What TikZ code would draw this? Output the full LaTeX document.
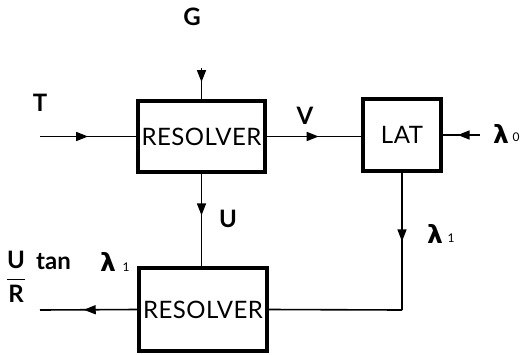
\documentclass[tikz,border=0pt]{standalone}
\usepackage{amsmath}
\usepackage{fontspec}
\setmainfont{Lato}
\newfontfamily\boxfont[LetterSpace=2]{Lato}
\newfontfamily\lamfont{DejaVu Sans}
\usetikzlibrary{arrows.meta,decorations.markings}
\tikzset{
  blk/.style={draw, line width=3.6pt, inner sep=0pt, font=\boxfont\fontsize{24}{26}\selectfont},
  conn/.style={line width=1.6pt},
  lbl/.style={inner sep=0pt, font=\fontsize{24}{26}\selectfont\bfseries},
  lam/.style={inner sep=0pt, font=\lamfont\fontsize{25}{27}\selectfont\bfseries},
  sub/.style={inner sep=0pt, font=\fontsize{12}{14}\selectfont},
  midarrow/.style={postaction={decorate,decoration={markings,mark=at position #1 with {\arrow{Triangle[width=9pt,length=12pt]}}}}}
}
\begin{document}
\begin{tikzpicture}[x=1pt,y=-1pt]
\useasboundingbox (0,0) rectangle (520,354);
\node[blk, minimum width=127pt, minimum height=71pt] (r1) at (201.5,136.5) {RESOLVER};
\node[blk, minimum width=78pt, minimum height=72pt] (lat) at (402,135) {LAT};
\node[blk, minimum width=128pt, minimum height=83pt] (r2) at (203,309.5) {RESOLVER};
\coordinate (tin) at (40,136.5);
\coordinate (gin) at (201.5,68);
\coordinate (l0) at (480,135);
\coordinate (corner) at (402,310);
\coordinate (out) at (40,310);
\draw[conn, midarrow=0.5] (tin) -- (r1.west);
\draw[conn, midarrow=0.45] (gin) -- (r1.north);
\draw[conn, midarrow=0.55] (r1.east) -- (r1.east -| lat.west);
\draw[conn, midarrow=0.6] (l0) -- (l0 -| lat.east);
\draw[conn, midarrow=0.5] (lat.south) -- (corner);
\draw[conn] (corner) -- (r2.east);
\draw[conn, midarrow=0.45] (r1.south) -- (r1.south |- r2.north);
\draw[conn, midarrow=0.55] (r2.west) -- (out);
\node[lbl] (g) at (192,17) {G};
\node[lbl] (t) at (40,103) {T};
\node[lbl] (v) at (305,116) {V};
\node[lbl] (u) at (228,219) {U};
\node[lam] (lam0) at (501,134) {λ};
\node[sub] (s0) at (516,137) {0};
\node[lam] (lam1) at (435,234) {λ};
\node[sub] (s1) at (451,238) {1};
\node[lbl] (frac) at (16,277) {$\genfrac{}{}{1.5pt}{0}{\textbf{U}}{\textbf{R}}$};
\node[lbl, anchor=west] (tan) at (36,262) {tan};
\node[lam] (lam2) at (108,262) {λ};
\node[sub] (s2) at (126,267) {1};
\end{tikzpicture}
\end{document}
